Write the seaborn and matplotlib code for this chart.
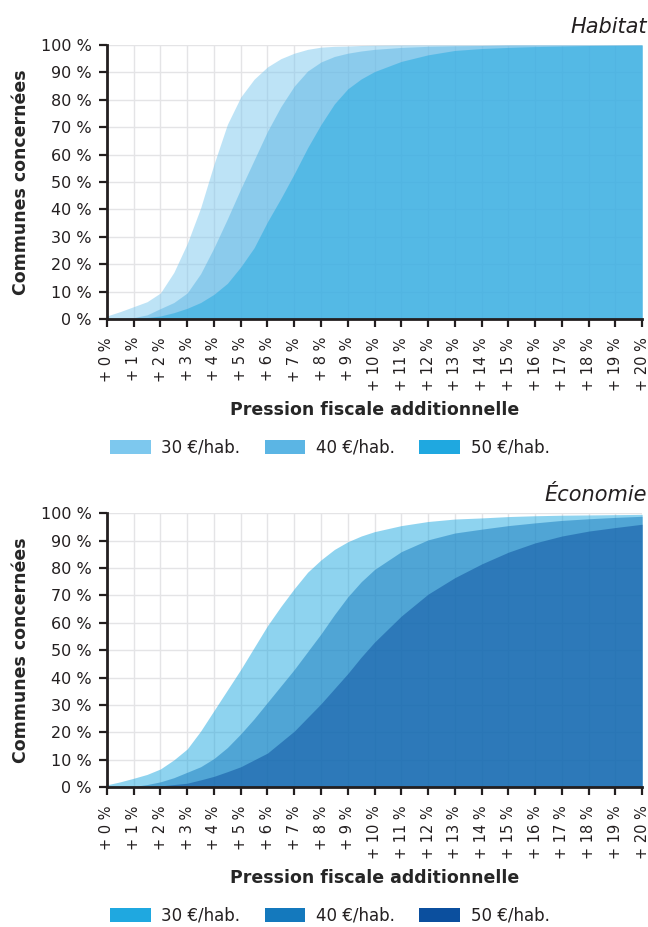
import numpy as np
import pandas as pd
import matplotlib
matplotlib.use("Agg")
import matplotlib.pyplot as plt
import seaborn as sns
from matplotlib.patches import Patch

# x axis: additional tax pressure (points); half steps where the curves bend
pression = [0, 0.5, 1, 1.5, 2, 2.5, 3, 3.5, 4, 4.5, 5, 5.5, 6, 6.5, 7, 7.5, 8, 8.5, 9, 9.5, 10,
            11, 12, 13, 14, 15, 16, 17, 18, 19, 20]
ticks = list(range(0, 21))
tick_labels = [f"+ {p} %" for p in ticks]
series_names = ["30 €/hab.", "40 €/hab.", "50 €/hab."]

# Habitat (share of communes, %)
habitat_30 = [1.1, 2.7, 4.5, 6.3, 9.5, 17, 27.5, 40.5, 56.5, 71, 81, 87.5, 92, 95, 97, 98.4, 99.2, 99.5, 99.6, 99.8, 99.9,
              100, 100, 100, 100, 100, 100, 100, 100, 100, 100]
habitat_40 = [0, 0.2, 0.5, 1.5, 3.8, 6, 9.5, 16.5, 26, 36.5, 47.5, 58, 68.5, 77.5, 85, 90.5, 93.8, 95.8, 97, 97.8, 98.4,
              99.1, 99.5, 99.7, 99.8, 100, 100, 100, 100, 100, 100]
habitat_50 = [0, 0, 0.2, 0.5, 1.1, 2.3, 3.9, 6, 9, 13, 19, 26, 35.5, 44, 53, 62.5, 71, 78.5, 84, 87.6, 90.3,
              94, 96.4, 98, 98.7, 99.1, 99.4, 99.6, 99.8, 99.9, 100]

# Economie (share of communes, %)
eco_30 = [0.9, 2, 3.3, 4.7, 6.7, 10, 14, 20.5, 28, 35.5, 43, 51, 59, 66, 72.5, 78.5, 83, 86.8, 89.6, 91.7, 93.3,
          95.5, 97, 97.9, 98.3, 98.8, 99.1, 99.3, 99.4, 99.5, 99.6]
eco_40 = [0, 0.1, 0.3, 1, 2, 3.5, 5.5, 7.5, 10.5, 14.5, 19.5, 25, 31, 37, 43, 49.5, 56, 63, 69.5, 75, 79.5,
          86, 90.3, 92.8, 94.2, 95.5, 96.5, 97.4, 98, 98.5, 98.9]
eco_50 = [0, 0, 0, 0.2, 0.5, 1, 1.5, 2.7, 4, 5.7, 7.5, 10, 12.5, 16.5, 20.5, 25.5, 30.5, 36, 41.5, 47.5, 53,
          62.5, 70.5, 76.5, 81.5, 85.8, 89.2, 91.7, 93.5, 94.8, 96]

habitat_colors = ["#7DC8EE", "#5BB5E4", "#1FA8E0"]
eco_colors = ["#1FA8E0", "#1479BD", "#0B4F9E"]
ink = "#231F20"

sns.set_theme(style="white")
plt.rcParams["font.family"] = ["DejaVu Sans"]
plt.rcParams["text.color"] = ink
plt.rcParams["xtick.color"] = ink
plt.rcParams["ytick.color"] = ink

fig = plt.figure(figsize=(6.48, 9.27), dpi=100)
ax_top = fig.add_axes([0.165, 0.6559, 0.826, 0.2956])
ax_bot = fig.add_axes([0.165, 0.1507, 0.826, 0.2956])


def draw_panel(ax, df, colors, title):
    ax.set_axisbelow(True)
    for name, color in zip(series_names, colors):
        ax.fill_between(df["pression"], 0, df[name], color=color, alpha=0.5, lw=0)
    ax.set_xlim(0, 20)
    ax.set_ylim(0, 100)
    ax.set_xticks(ticks)
    ax.set_xticklabels(tick_labels, rotation=90, fontsize=10.5)
    ax.set_yticks(range(0, 101, 10))
    ax.set_yticklabels([f"{v} %" for v in range(0, 101, 10)], fontsize=11.5)
    ax.grid(True, color="#E4E4E6", lw=1)
    for s in ["top", "right"]:
        ax.spines[s].set_visible(False)
    for s in ["left", "bottom"]:
        ax.spines[s].set_color(ink)
        ax.spines[s].set_linewidth(2)
    ax.tick_params(axis="both", which="major", direction="out", length=6, width=1.6,
                   color=ink, bottom=True, left=True)
    ax.tick_params(axis="x", pad=7)
    ax.tick_params(axis="y", pad=5)
    ax.set_ylabel("Communes concernées", fontsize=12.5, fontweight="bold", labelpad=8)
    ax.set_xlabel("Pression fiscale additionnelle", fontsize=12.5, fontweight="bold", labelpad=7)
    ax.text(1.008, 1.03, title, transform=ax.transAxes, ha="right", va="bottom",
            fontsize=15, style="italic")


df_hab = pd.DataFrame({"pression": pression, series_names[0]: habitat_30,
                       series_names[1]: habitat_40, series_names[2]: habitat_50})
df_eco = pd.DataFrame({"pression": pression, series_names[0]: eco_30,
                       series_names[1]: eco_40, series_names[2]: eco_50})

draw_panel(ax_top, df_hab, habitat_colors, "Habitat")
draw_panel(ax_bot, df_eco, eco_colors, "Économie")

for colors, ypos in [(habitat_colors, 1 - 448 / 927), (eco_colors, 1 - 916 / 927)]:
    handles = [Patch(facecolor=c, edgecolor="none", label=n) for c, n in zip(colors, series_names)]
    fig.legend(handles=handles, loc="center", bbox_to_anchor=(0.509, ypos), ncol=3,
               frameon=False, fontsize=12, handlelength=2.45, handleheight=0.95,
               columnspacing=1.45, handletextpad=0.65)

fig.savefig("out.png", dpi=100)
